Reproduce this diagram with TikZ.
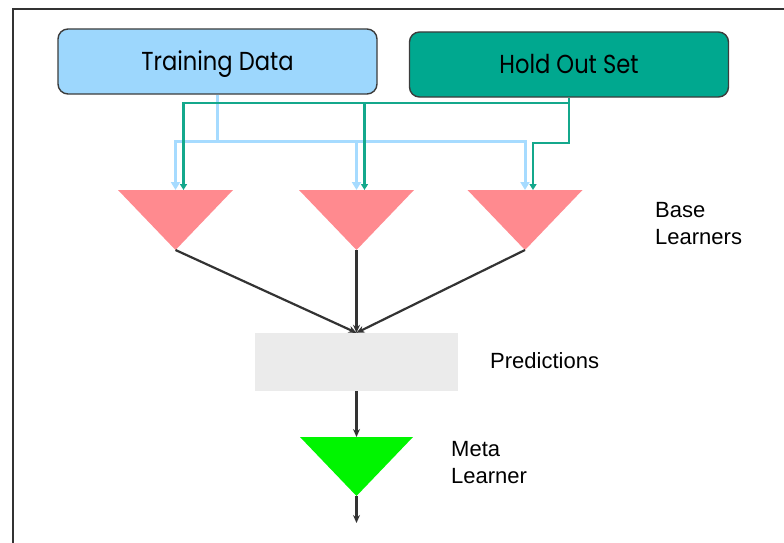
\documentclass[tikz,border=0pt]{standalone}
\usepackage{fontspec}
\setmainfont{Liberation Sans}
\newfontfamily\boxfont[FakeStretch=0.87]{Poppins}
\usetikzlibrary{arrows.meta,calc}
\definecolor{tdfill}{HTML}{9DD7FD}
\definecolor{hofill}{HTML}{00A88F}
\definecolor{boxline}{HTML}{3C3C3C}
\definecolor{bluel}{HTML}{A6DBFF}
\definecolor{teall}{HTML}{14A88C}
\definecolor{pinkc}{HTML}{FF8A8F}
\definecolor{predc}{HTML}{EBEBEB}
\definecolor{greenc}{HTML}{00F500}
\definecolor{darkc}{HTML}{333333}
\definecolor{framec}{HTML}{333333}
\begin{document}
\begin{tikzpicture}[x=1pt,y=-1pt,
  databox/.style={draw=boxline, line width=1.4pt, rounded corners=10pt,
    minimum width=319pt, minimum height=65pt, inner sep=0pt,
    text height=18pt, text depth=0pt,
    font=\boxfont\fontsize{26}{30}\selectfont},
  blueconn/.style={draw=bluel, line width=3pt},
  tealconn/.style={draw=teall, line width=2.5pt},
  bluetip/.style={-{Triangle[length=8pt,width=9pt]}},
  tealtip/.style={-{Triangle[length=6pt,width=7pt]}},
  darkconn/.style={draw=darkc, line width=2.2pt, -{Stealth[length=8pt,width=7pt]}},
  lbl/.style={inner sep=0pt, align=left, font=\fontsize{22}{27}\selectfont}
]
\useasboundingbox (0,0) rectangle (784,543);
\draw[framec, line width=1.5pt] (784,9) -- (13,9) -- (13,543);

% input boxes
\node[databox, fill=tdfill] (td) at (217.5,61.5) {Training Data};
\node[databox, fill=hofill] (ho) at (569,64.5) {Hold Out Set};

% junction coordinates
\coordinate (bj) at (217.5,141);
\coordinate (hj) at (569,103);

% base learners (top centres and apexes)
\coordinate (t1) at (175.5,190); \coordinate (a1) at (175.5,250);
\coordinate (t2) at (356.5,190); \coordinate (a2) at (356.5,250);
\coordinate (t3) at (525,190);   \coordinate (a3) at (525,250);
\foreach \i in {1,2,3}{
  \fill[pinkc] ($(t\i)+(-57.5,0)$) -- ($(t\i)+(57.5,0)$) -- (a\i) -- cycle;
}

% blue connectors
\draw[blueconn] (td.south) -- (bj);
\draw[blueconn, bluetip] (bj) -| (t1);
\draw[blueconn, bluetip] (bj) -| (t2);
\draw[blueconn, bluetip] (bj) -| (t3);

% teal connectors
\coordinate (h1) at ($(t1)+(8,0)$);
\coordinate (h2) at ($(t2)+(8,0)$);
\coordinate (h3) at ($(t3)+(8,0)$);
\draw[tealconn] (ho.south) -- (hj);
\draw[tealconn, tealtip] (hj) -| (h1);
\draw[tealconn, tealtip] (hj) -| (h2);
\draw[tealconn, tealtip] (hj) -- ++(0,40) -| (h3);

% predictions
\node[fill=predc, minimum width=203pt, minimum height=58pt, inner sep=0pt] (pred) at (356.5,362) {};
\draw[darkconn] (a1) -- (pred.north);
\draw[darkconn] (a2) -- (pred.north);
\draw[darkconn] (a3) -- (pred.north);

% meta learner
\coordinate (m) at (356.5,437);
\coordinate (ma) at (356.5,496);
\coordinate (mend) at (356.5,523);
\fill[greenc] ($(m)+(-56.5,0)$) -- ($(m)+(56.5,0)$) -- (ma) -- cycle;
\draw[darkconn] (pred.south) -- (m);
\draw[darkconn] (ma) -- (mend);

% labels (base anchor = baseline of the last line)
\node[lbl, anchor=base west] (lb) at (655,244) {Base\\Learners};
\node[lbl, anchor=base west] (lp) at (490,368) {Predictions};
\node[lbl, anchor=base west] (lm) at (451,483) {Meta\\Learner};
\end{tikzpicture}
\end{document}
